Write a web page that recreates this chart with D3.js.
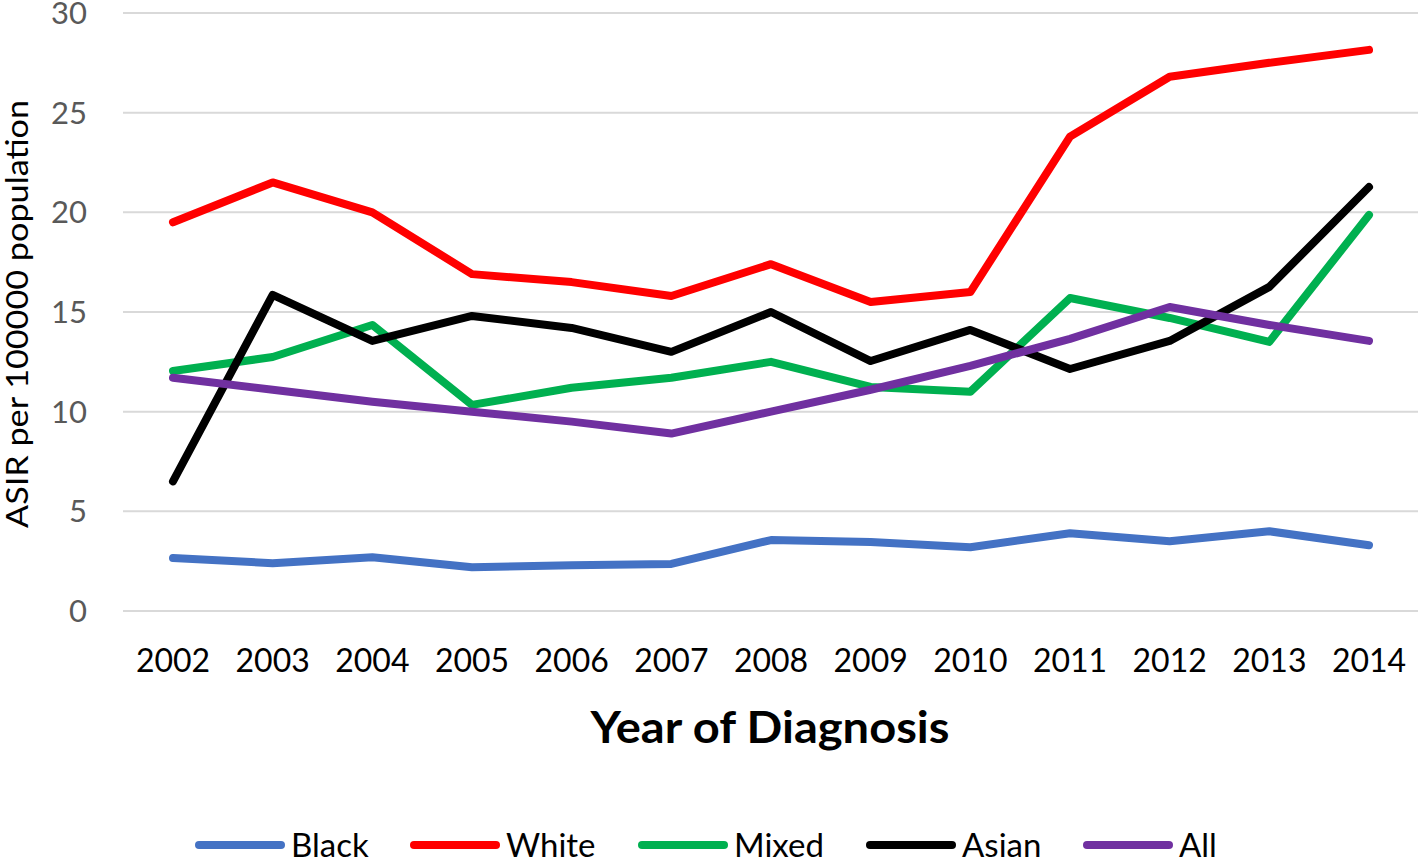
<!DOCTYPE html>
<html><head><meta charset="utf-8">
<script src="https://cdn.jsdelivr.net/npm/d3@7"></script>
<style>body{margin:0;background:#fff;} svg{display:block;}</style>
</head><body>
<script>
const years = [2002,2003,2004,2005,2006,2007,2008,2009,2010,2011,2012,2013,2014];
const black = [2.66,2.4,2.7,2.2,2.3,2.36,3.56,3.46,3.2,3.9,3.5,4.0,3.3];
const white = [19.5,21.5,20.0,16.9,16.5,15.8,17.4,15.5,16.0,23.8,26.8,27.5,28.15];
const mixed = [12.04,12.74,14.35,10.34,11.2,11.7,12.5,11.24,11.0,15.7,14.7,13.5,19.87];
const asian = [6.5,15.86,13.55,14.8,14.2,13.0,15.0,12.54,14.1,12.14,13.55,16.26,21.27];
const all = [11.7,11.1,10.5,10.0,9.5,8.9,10.0,11.1,12.3,13.65,15.25,14.35,13.55];
const seriesNames = ["Black","White","Mixed","Asian","All"];
const seriesColors = ["#4472C4","#FF0000","#00B050","#000000","#7030A0"];
const yTicks = [0,5,10,15,20,25,30];

const series = [black, white, mixed, asian, all].map((v,i)=>({name:seriesNames[i], color:seriesColors[i], values:v}));

const W=1418,H=857;
const svg = d3.select("body").append("svg").attr("width",W).attr("height",H);
const font = "Lato, 'Open Sans', sans-serif";

const x = d3.scalePoint().domain(years).range([173,1369]);
const y = d3.scaleLinear().domain([0,30]).range([611,13]);

// gridlines
svg.append("g").selectAll("line").data(yTicks).join("line")
  .attr("x1",123).attr("x2",W).attr("y1",d=>y(d)).attr("y2",d=>y(d))
  .attr("stroke","#d9d9d9").attr("stroke-width",2);

// y tick labels
svg.append("g").selectAll("text").data(yTicks).join("text")
  .attr("x",87).attr("y",d=>y(d)).attr("dy","0.36em")
  .attr("text-anchor","end").attr("fill","#595959")
  .style("font-family",font).style("font-size","31px").text(d=>d);

// x tick labels
svg.append("g").selectAll("text").data(years).join("text")
  .attr("x",d=>x(d)).attr("y",672).attr("text-anchor","middle").attr("fill","#000")
  .style("font-family",font).style("font-size","32px").text(d=>d);

// axis titles
svg.append("text").attr("transform","translate(28,314) rotate(-90)")
  .attr("text-anchor","middle").attr("fill","#000")
  .style("font-family",font).style("font-size","30px")
  .attr("textLength",428).attr("lengthAdjust","spacingAndGlyphs")
  .text("ASIR per 100000 population");
svg.append("text").attr("x",770).attr("y",743).attr("text-anchor","middle").attr("fill","#000")
  .style("font-family",font).style("font-size","44px").style("font-weight","bold")
  .attr("textLength",359).attr("lengthAdjust","spacingAndGlyphs")
  .text("Year of Diagnosis");

// lines
const line = d3.line().x((d,i)=>x(years[i])).y(d=>y(d));
svg.append("g").selectAll("path").data(series).join("path")
  .attr("d",d=>line(d.values)).attr("fill","none")
  .attr("stroke",d=>d.color).attr("stroke-width",8)
  .attr("stroke-linejoin","round").attr("stroke-linecap","round");

// legend
const legX = [195,410,638,866,1083];
const lg = svg.append("g").selectAll("g").data(series).join("g")
  .attr("transform",(d,i)=>`translate(${legX[i]},845)`);
lg.append("line").attr("x1",4).attr("x2",86).attr("y1",0).attr("y2",0)
  .attr("stroke",d=>d.color).attr("stroke-width",8).attr("stroke-linecap","round");
lg.append("text").attr("x",96).attr("y",12).attr("fill","#000")
  .style("font-family",font).style("font-size","33px").text(d=>d.name);
</script>
</body></html>
